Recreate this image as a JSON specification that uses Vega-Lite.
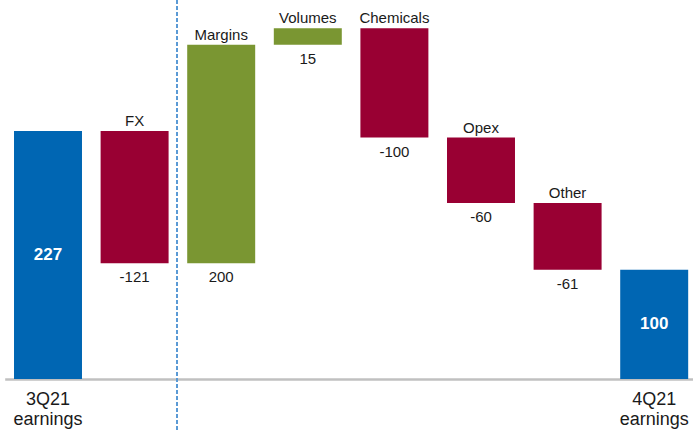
{
  "$schema": "https://vega.github.io/schema/vega-lite/v6.json",
  "width": 693,
  "height": 379,
  "autosize": "none",
  "padding": {"left": 0, "top": 0, "right": 0, "bottom": 56},
  "config": {"view": {"stroke": null}, "font": "Liberation Sans"},
  "data": {"values": [
    {"name": "3Q21 earnings", "start": 0, "end": 227, "kind": "total", "label": "227"},
    {"name": "FX", "start": 227, "end": 106, "kind": "decrease", "label": "-121"},
    {"name": "Margins", "start": 106, "end": 306, "kind": "increase", "label": "200"},
    {"name": "Volumes", "start": 306, "end": 321, "kind": "increase", "label": "15"},
    {"name": "Chemicals", "start": 321, "end": 221, "kind": "decrease", "label": "-100"},
    {"name": "Opex", "start": 221, "end": 161, "kind": "decrease", "label": "-60"},
    {"name": "Other", "start": 161, "end": 100, "kind": "decrease", "label": "-61"},
    {"name": "4Q21 earnings", "start": 100, "end": 0, "kind": "total", "label": "100"}
  ]},
  "transform": [
    {"calculate": "max(datum.start, datum.end)", "as": "top"},
    {"calculate": "min(datum.start, datum.end)", "as": "bottom"},
    {"calculate": "(datum.start + datum.end) / 2", "as": "mid"}
  ],
  "encoding": {
    "x": {
      "field": "name", "type": "nominal", "sort": null,
      "scale": {"range": [4.7, 697.5], "paddingInner": 0.215, "paddingOuter": 0.1075},
      "axis": {
        "title": null, "ticks": false, "tickSize": 0, "labelAngle": 0,
        "labelExpr": "(datum.value == '3Q21 earnings' || datum.value == '4Q21 earnings') ? split(datum.value, ' ') : ''",
        "labelFontSize": 18, "labelColor": "#1a1a1a", "labelPadding": 11, "labelLineHeight": 20,
        "domainColor": "#c0c0c0", "domainWidth": 2.5, "labelFont": "Liberation Sans"
      }
    }
  },
  "layer": [
    {
      "mark": {"type": "bar", "cornerRadius": 0},
      "encoding": {
        "y": {"field": "start", "type": "quantitative", "scale": {"domain": [0, 346.9], "nice": false, "zero": false}, "axis": null},
        "y2": {"field": "end"},
        "color": {"field": "kind", "type": "nominal", "legend": null,
          "scale": {"domain": ["total", "increase", "decrease"], "range": ["#0066B3", "#7A9632", "#990033"]}}
      }
    },
    {
      "mark": {"type": "rule", "color": "#5B9BD5", "strokeDash": [4, 2], "strokeWidth": 1, "xOffset": 42.5},
      "encoding": {
        "x": {"datum": "FX"},
        "y": {"datum": 346.9},
        "y2": {"datum": -48}
      }
    },
    {
      "transform": [{"filter": "datum.kind != 'total'"}],
      "mark": {"type": "text", "baseline": "alphabetic", "dy": -5, "fontSize": 15, "color": "#1a1a1a"},
      "encoding": {
        "y": {"field": "top", "type": "quantitative"},
        "text": {"field": "name"}
      }
    },
    {
      "transform": [{"filter": "datum.kind != 'total'"}],
      "mark": {"type": "text", "baseline": "top", "dy": 7, "fontSize": 15, "color": "#1a1a1a"},
      "encoding": {
        "y": {"field": "bottom", "type": "quantitative"},
        "text": {"field": "label"}
      }
    },
    {
      "transform": [{"filter": "datum.kind == 'total'"}],
      "mark": {"type": "text", "baseline": "middle", "fontSize": 17, "fontWeight": "bold", "color": "white"},
      "encoding": {
        "y": {"field": "mid", "type": "quantitative"},
        "text": {"field": "label"}
      }
    }
  ]
}
